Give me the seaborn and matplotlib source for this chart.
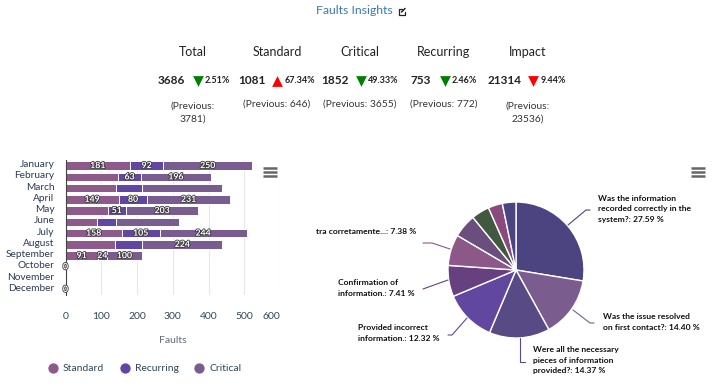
import matplotlib
matplotlib.use("Agg")
import matplotlib.pyplot as plt
import matplotlib.patheffects as pe
from matplotlib.transforms import ScaledTranslation
import seaborn as sns
import pandas as pd

months = ["January", "February", "March", "April", "May", "June", "July",
          "August", "September", "October", "November", "December"]
standard = [181, 148, 140, 149, 118, 89, 158, 138, 91, 0, 0, 0]
recurring = [92, 63, 75, 80, 51, 52, 105, 77, 24, 0, 0, 0]
critical = [250, 196, 224, 231, 203, 176, 244, 224, 100, 0, 0, 0]
standard_labels = ["181", "", "", "149", "", "", "158", "", "91", "0", "", "0"]
recurring_labels = ["92", "63", "", "80", "51", "", "105", "", "24", "", "", ""]
critical_labels = ["250", "196", "", "231", "203", "", "244", "224", "100", "", "", ""]
x_ticks = [0, 100, 200, 300, 400, 500, 600]

pie_values = [27.59, 14.40, 14.37, 12.32, 7.41, 7.38, 5.6, 4.3, 3.4, 3.23]
pie_colors = ["#4b4480", "#7a5d8e", "#574a85", "#6247a0", "#674080",
              "#8c5888", "#6b4e7e", "#42593f", "#8a4a80", "#4b4480"]

kpi_names = ["Total", "Standard", "Critical", "Recurring", "Impact"]
kpi_values = ["3686", "1081", "1852", "753", "21314"]
kpi_changes = ["2.51%", "67.34%", "49.33%", "2.46%", "9.44%"]
kpi_previous = ["(Previous:\n3781)", "(Previous: 646)", "(Previous: 3655)",
                "(Previous: 772)", "(Previous:\n23536)"]

W, H = 726, 388
sns.set_style("white")
plt.rcParams["font.family"] = ["Lato", "DejaVu Sans"]

fig = plt.figure(figsize=(W / 100, H / 100), dpi=100)


def px_axes(left, top, right, bottom):
    return fig.add_axes([left / W, 1 - bottom / H, (right - left) / W, (bottom - top) / H])


# stacked bars
ax = px_axes(65.5, 160, 280, 295)
df = pd.DataFrame({"month": months, "standard": standard, "recurring": recurring, "critical": critical})
df["left_recurring"] = df["standard"]
df["left_critical"] = df["standard"] + df["recurring"]
stroke = [pe.withStroke(linewidth=1.2, foreground="#3a3a3a")]

sns.barplot(data=df, y="month", x="standard", color="#8e5a8b", saturation=1, width=0.74,
            edgecolor="white", linewidth=0.7, ax=ax)
ax.bar_label(ax.containers[-1], labels=standard_labels, label_type="center", color="white",
             fontsize=6.3, fontweight="bold", path_effects=stroke)
sns.barplot(data=df, y="month", x="recurring", left=df["left_recurring"], color="#6146a3", saturation=1,
            width=0.74, edgecolor="white", linewidth=0.7, ax=ax)
ax.bar_label(ax.containers[-1], labels=recurring_labels, label_type="center", color="white",
             fontsize=6.3, fontweight="bold", path_effects=stroke)
sns.barplot(data=df, y="month", x="critical", left=df["left_critical"], color="#7a5d90", saturation=1,
            width=0.74, edgecolor="white", linewidth=0.7, ax=ax)
ax.bar_label(ax.containers[-1], labels=critical_labels, label_type="center", color="white",
             fontsize=6.3, fontweight="bold", path_effects=stroke)

ax.set_xlim(0, 600)
ax.set_xticks(x_ticks)
ax.set_xlabel("Faults", fontsize=7.5, color="#5f6b7a", labelpad=11)
ax.set_ylabel("")
ax.grid(axis="x", color="#e8e8e8", linewidth=0.8)
ax.set_axisbelow(True)
ax.tick_params(axis="y", length=0, labelsize=7.3, labelcolor="#2b3a55", pad=8)
ax.tick_params(axis="x", length=0, labelsize=7.5, labelcolor="#33475b", pad=12)
ax.get_xticklabels()[-1].set_ha("right")
for lab in ax.get_yticklabels():
    lab.set_transform(lab.get_transform() + ScaledTranslation(0, 1.5 / 72, fig.dpi_scale_trans))
sns.despine(ax=ax, top=True, right=True, bottom=True)
ax.spines["left"].set_color("#444444")

# pie
pie_ax = px_axes(516 - 68, 270 - 68, 516 + 68, 270 + 68)
pie_ax.pie(pie_values, colors=pie_colors, startangle=90, counterclock=False, radius=1,
           wedgeprops={"edgecolor": "white", "linewidth": 1})
pie_ax.set_xlim(-1, 1)
pie_ax.set_ylim(-1, 1)

# page furniture, in pixel coordinates
page = fig.add_axes([0, 0, 1, 1], zorder=5)
page.set_xlim(0, W)
page.set_ylim(H, 0)
page.axis("off")
page.patch.set_alpha(0)

page.text(354.5, 10, "Faults Insights", ha="center", va="center", fontsize=8.8, color="#3b78b5")
# external-link icon
page.plot([402, 399, 399, 404.5, 404.5], [9, 9, 14.5, 14.5, 11.5], color="#222222", lw=0.9)
page.plot([401.5, 405], [12, 8.5], color="#222222", lw=1.1)

name_x = [193, 277, 360, 444, 528]
value_x = [171, 252, 335, 421, 505]
tri_x = [198, 277, 361, 445, 533]
pct_x = [205, 285, 368, 452, 541]
for i in range(5):
    page.text(name_x[i], 52, kpi_names[i], ha="center", va="center", fontsize=9, color="#222222")
    page.text(value_x[i], 81, kpi_values[i], ha="center", va="center", fontsize=8.5,
              fontweight="bold", color="#222222")
    up = kpi_names[i] == "Standard"
    red = up or kpi_names[i] == "Impact"
    page.scatter(tri_x[i], 81, marker="^" if up else "v", s=60, color="red" if red else "green", linewidths=0)
    page.text(pct_x[i], 80.5, kpi_changes[i], ha="left", va="center", fontsize=6.5,
              fontweight="bold", color="#222222")
    page.text(name_x[i], 104 if "\n" not in kpi_previous[i] else 112.5, kpi_previous[i], ha="center", va="center",
              fontsize=7.4, color="#333333", linespacing=1.55)

# menu icons
for mx, my in [(270, 172), (698, 172)]:
    for dy in (-4, 0, 4):
        page.plot([mx - 7, mx + 7], [my + dy, my + dy], color="#666666", lw=1.8, solid_capstyle="butt")

# pie labels and leader lines
pie_labels = [
    (598, 209, "Was the information\nrecorded correctly in the\nsystem?: 27.59 %"),
    (603, 322, "Was the issue resolved\non first contact?: 14.40 %"),
    (533, 360, "Were all the necessary\npieces of information\nprovided?: 14.37 %"),
    (358, 333, "Provided incorrect\ninformation.: 12.32 %"),
    (338, 288, "Confirmation of\ninformation.: 7.41 %"),
    (316, 231, "tra corretamente...: 7.38 %"),
]
for lx, ly, txt in pie_labels:
    page.text(lx, ly, txt, ha="left", va="center", fontsize=6.1, fontweight="bold", color="#111111", linespacing=1.6)

leaders = [
    ([568, 586, 590], [225, 210, 210], "#4b4480"),
    ([573, 590, 594], [310, 323, 323], "#7a5d8e"),
    ([520, 520, 525], [338, 362, 362], "#574a85"),
    ([467, 452, 448], [318, 335, 335], "#6247a0"),
    ([448, 423], [280, 289], "#674080"),
    ([450, 432, 423], [249, 243, 243], "#8c5888"),
]
for xs, ys, col in leaders:
    page.plot(xs, ys, color=col, lw=0.8)

# legend
legend_items = [(53, 63, "Standard", "#8e5a8b"), (125, 135, "Recurring", "#6146a3"), (199, 210, "Critical", "#7a5d90")]
for dot_x, text_x, name, col in legend_items:
    page.scatter(dot_x, 368, s=55, color=col, linewidths=0)
    page.text(text_x, 368.5, name, ha="left", va="center", fontsize=7.5, color="#33475b")

fig.savefig("out.png", dpi=100, facecolor="white")
